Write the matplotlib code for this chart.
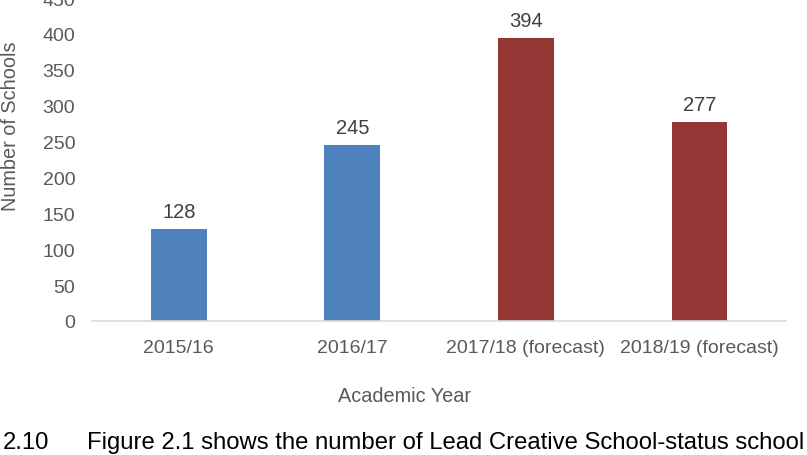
import matplotlib.pyplot as plt

years = ["2015/16", "2016/17", "2017/18 (forecast)", "2018/19 (forecast)"]
schools = [128, 245, 394, 277]
bar_colors = ["#4F81BD", "#4F81BD", "#943634", "#943634"]
yticks = [0, 50, 100, 150, 200, 250, 300, 350, 400, 450]

plt.rcParams['font.family'] = ['Liberation Sans', 'DejaVu Sans']

W, H = 807, 456
fig = plt.figure(figsize=(W / 100, H / 100), dpi=100)
ax = fig.add_axes([0.114, 0.294, 0.860, 0.708])

x = range(len(years))
ax.bar(x, schools, width=0.32, color=bar_colors, zorder=2)

for xi, v in zip(x, schools):
    ax.text(xi, v + 11, str(v), ha="center", va="bottom", fontsize=14.5, color="#404040")

ax.set_xlim(-0.5, 3.5)
ax.set_ylim(0, 450)
ax.set_yticks(yticks)
ax.set_xticks(list(x))
ax.set_xticklabels(years)
ax.tick_params(axis="both", length=0, labelsize=14, colors="#595959")
ax.tick_params(axis="x", pad=13)
ax.tick_params(axis="y", pad=12)

for s in ["top", "right", "left"]:
    ax.spines[s].set_visible(False)
ax.spines["bottom"].set_color("#D9D9D9")
ax.spines["bottom"].set_linewidth(1.2)

# axis titles placed where the reference has them
fig.text(405 / W, 1 - 397 / H, "Academic Year", fontsize=14.3, color="#595959",
         ha="center", va="center")
fig.text(1 / W, 1 - 126 / H, "Number of Schools", fontsize=14.3, color="#595959",
         ha="left", va="center", rotation=90)

fig.text(3 / W, 1 - 443 / H, "2.10", fontsize=17.2, color="black", va="center")
fig.text(87 / W, 1 - 443 / H, "Figure 2.1 shows the number of Lead Creative School-status school",
         fontsize=17.2, color="black", va="center")

plt.savefig("out.png", dpi=100)
